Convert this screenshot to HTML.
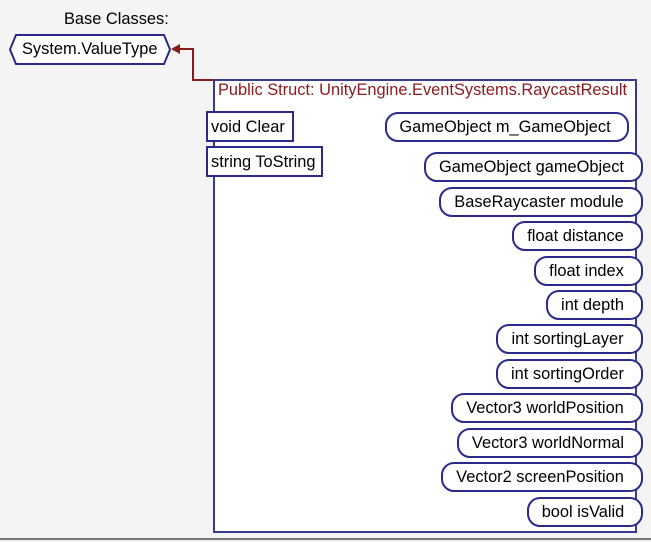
<!DOCTYPE html>
<html><head><style>
body{margin:0;width:651px;height:542px;background:#f4f4f4;position:relative;overflow:hidden;font-family:"Liberation Sans",Arial,sans-serif;font-size:16.4px;color:#000}
.a{position:absolute;box-sizing:border-box;white-space:nowrap}
.box{left:213px;top:79px;width:424px;height:454px;border:2px solid #3a3a96;background:#fff}
.m{border:2px solid #2a2a8a;background:#fff;padding:0 3px;line-height:28px;height:31px}
.p{border:2px solid #2a2a8a;background:#fff;border-radius:13px;text-align:center;line-height:27px;height:30px;padding-right:4px}
</style></head><body>
<div class="a" style="left:64px;top:10px">Base Classes:</div>
<svg class="a" style="left:0;top:0" width="651" height="542">
<polygon points="16,35 164,35 170,49.5 164,64 16,64 10,49.5" fill="#fff" stroke="#2a2a8a" stroke-width="2"/>
<polyline points="213,80 193,80 193,49 178,49" fill="none" stroke="#8b1a1a" stroke-width="2"/>
<polygon points="171,49 180,44 180,54" fill="#8b1a1a"/>
<line x1="0" y1="539" x2="651" y2="539" stroke="#777" stroke-width="2"/>
</svg>
<div class="a" style="left:22px;top:40px">System.ValueType</div>
<div class="a box"></div>
<div class="a" style="left:218px;top:81px;color:#8b1a1a">Public Struct: UnityEngine.EventSystems.RaycastResult</div>
<div class="a m" style="left:206px;top:111px;width:88px">void Clear</div>
<div class="a m" style="left:206px;top:146px;width:117px">string ToString</div>
<div class="a p" style="left:385px;top:112px;width:244px">GameObject m_GameObject</div>
<div class="a p" style="left:424px;top:152px;width:219px">GameObject gameObject</div>
<div class="a p" style="left:439px;top:187px;width:204px">BaseRaycaster module</div>
<div class="a p" style="left:512px;top:221px;width:131px">float distance</div>
<div class="a p" style="left:534px;top:256px;width:109px">float index</div>
<div class="a p" style="left:546px;top:290px;width:97px">int depth</div>
<div class="a p" style="left:496px;top:324px;width:147px">int sortingLayer</div>
<div class="a p" style="left:496px;top:359px;width:147px">int sortingOrder</div>
<div class="a p" style="left:451px;top:393px;width:192px">Vector3 worldPosition</div>
<div class="a p" style="left:457px;top:428px;width:186px">Vector3 worldNormal</div>
<div class="a p" style="left:441px;top:462px;width:202px">Vector2 screenPosition</div>
<div class="a p" style="left:527px;top:497px;width:116px">bool isValid</div>
</body></html>
